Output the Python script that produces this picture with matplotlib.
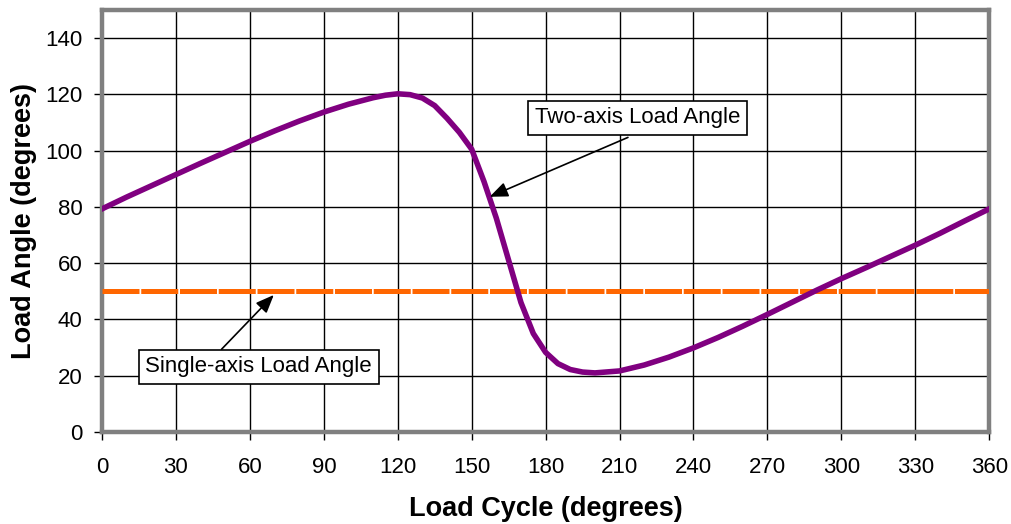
import matplotlib
matplotlib.use("Agg")
import matplotlib.pyplot as plt
import numpy as np

plt.rcParams['font.family'] = ['Liberation Sans', 'DejaVu Sans']

# Data
cycle_deg = [0, 10, 20, 30, 40, 50, 60, 70, 80, 90, 100, 110, 115, 120, 125, 130, 135,
             140, 145, 150, 155, 160, 165, 170, 175, 180, 185, 190, 195, 200, 210, 220,
             230, 240, 250, 260, 270, 280, 290, 300, 310, 320, 330, 340, 350, 360]
two_axis = [79.3, 83.5, 87.5, 91.5, 95.5, 99.4, 103.3, 107.0, 110.5, 113.7, 116.5, 118.8,
            119.7, 120.2, 119.9, 118.7, 116.0, 111.5, 106.5, 100.5, 89.0, 76.0, 61.0,
            46.0, 35.0, 28.3, 24.3, 22.2, 21.3, 21.0, 21.7, 23.8, 26.6, 29.9, 33.6, 37.6,
            41.8, 46.1, 50.4, 54.5, 58.4, 62.4, 66.4, 70.6, 75.0, 79.3]
single_x = [0, 360]
single_axis = [50, 50]

x_ticks = list(range(0, 361, 30))
y_ticks = list(range(0, 141, 20))

fig = plt.figure(figsize=(10.12, 5.24), dpi=100)
ax = fig.add_axes([0.1008, 0.1756, 0.9775 - 0.1008, 0.981 - 0.1756])

ax.set_xlim(0, 360)
ax.set_ylim(0, 150)
ax.set_xticks(x_ticks)
ax.set_yticks(y_ticks)
ax.grid(True, color='black', linewidth=1.0)
ax.set_axisbelow(True)

ax.plot(single_x, single_axis, color='#FF6600', linewidth=3.6,
        dashes=(7.4, 0.35), solid_capstyle='butt', dash_capstyle='butt', zorder=3)
ax.plot(cycle_deg, two_axis, color='#800080', linewidth=4.0, zorder=4,
        solid_joinstyle='round')

for s in ax.spines.values():
    s.set_color('#808080')
    s.set_linewidth(3.2)

ax.tick_params(axis='both', direction='out', length=6, width=1, color='black',
               labelsize=16)
ax.tick_params(axis='x', pad=12)
ax.tick_params(axis='y', pad=8)
ax.set_xlabel('Load Cycle (degrees)', fontsize=19.5, fontweight='bold', labelpad=13)
ax.set_ylabel('Load Angle (degrees)', fontsize=19.5, fontweight='bold', labelpad=6)

bbox = dict(boxstyle='square,pad=0.3', fc='white', ec='black', lw=1.2)
arrow = dict(arrowstyle='-|>,head_length=1.1,head_width=0.45', color='black', lw=1.2,
             shrinkA=0, shrinkB=0)

# Two-axis annotation
ax.annotate('', xy=(157.3, 83.6), xytext=(213.4, 104.7), arrowprops=arrow, zorder=5)
ax.text(217.3, 111.6, 'Two-axis Load Angle', fontsize=16, ha='center', va='center',
        bbox=bbox, zorder=6)
# Single-axis annotation
ax.annotate('', xy=(69.7, 48.7), xytext=(48.5, 29.4), arrowprops=arrow, zorder=5)
ax.text(63.6, 23.1, 'Single-axis Load Angle', fontsize=16, ha='center', va='center',
        bbox=bbox, zorder=6)

fig.savefig('out.png', dpi=100)
